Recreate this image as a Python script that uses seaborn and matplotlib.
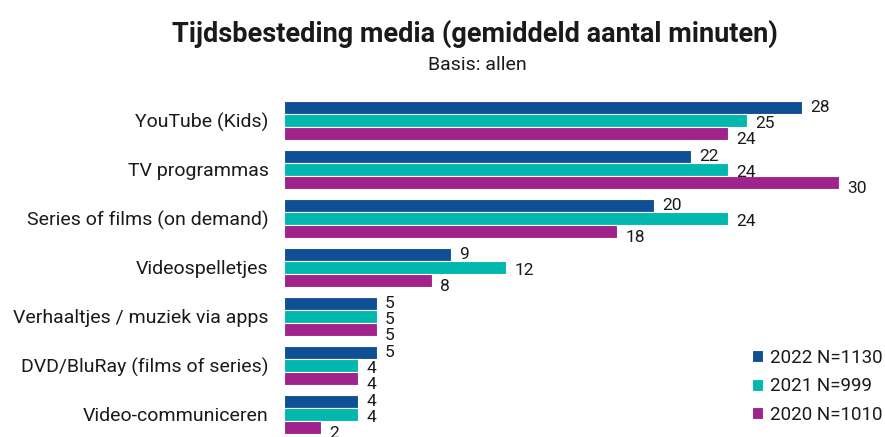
import matplotlib
matplotlib.use("Agg")
import matplotlib.pyplot as plt
import seaborn as sns
import pandas as pd

categories = [
    "YouTube (Kids)",
    "TV programmas",
    "Series of films (on demand)",
    "Videospelletjes",
    "Verhaaltjes / muziek via apps",
    "DVD/BluRay (films of series)",
    "Video-communiceren",
]
series_names = ["2022 N=1130", "2021 N=999", "2020 N=1010"]
values_2022 = [28, 22, 20, 9, 5, 5, 4]
values_2021 = [25, 24, 24, 12, 5, 4, 4]
values_2020 = [24, 30, 18, 8, 5, 4, 2]
colors = ["#0F4F96", "#00B8AD", "#A0238B"]

df = pd.DataFrame({
    "categorie": categories * 3,
    "reeks": [series_names[0]] * 7 + [series_names[1]] * 7 + [series_names[2]] * 7,
    "minuten": values_2022 + values_2021 + values_2020,
})

sns.set_theme(style="white")
plt.rcParams["font.family"] = ["Roboto", "DejaVu Sans"]
plt.rcParams["text.color"] = "#1a1a1a"

W, H = 885, 437
fig = plt.figure(figsize=(W / 100, H / 100), dpi=100)
ax = fig.add_axes([284 / W, 0, 601 / W, 341 / H])

sns.barplot(
    data=df, y="categorie", x="minuten", hue="reeks",
    order=categories, hue_order=series_names, palette=colors,
    saturation=1, orient="h", width=0.8, ax=ax,
    edgecolor="white", linewidth=0.8, legend=True,
)

# value labels, nudged downward per series so stacked numbers stay readable
nudges = [0, -2, -4]
for cont, dy in zip(ax.containers, nudges):
    anns = ax.bar_label(cont, fmt="%d", padding=6, fontsize=12.5, color="#1a1a1a")
    for a in anns:
        a.xyann = (a.xyann[0], dy)

ax.set_xlim(0, 601 / 18.5)
ax.set_ylim(6.46, -0.5)
ax.set_xlabel("")
ax.set_ylabel("")
ax.set_xticks([])
ax.tick_params(axis="y", length=0, pad=11, labelsize=14, labelcolor="#1a1a1a")
for s in ax.spines.values():
    s.set_visible(False)

handles, labels = ax.get_legend_handles_labels()
ax.legend_.remove()
fig.legend(
    handles, labels, loc="upper left", bbox_to_anchor=(752 / W, 1 - 349 / H),
    frameon=False, fontsize=13.5, handlelength=0.6, handleheight=0.6,
    handletextpad=0.35, labelspacing=0.55, borderaxespad=0, borderpad=0,
)

fig.text(475 / W, 1 - 34 / H, "Tijdsbesteding media (gemiddeld aantal minuten)",
         ha="center", va="center", fontsize=19.5, fontweight="bold")
fig.text(477 / W, 1 - 65 / H, "Basis: allen", ha="center", va="center", fontsize=14)

fig.savefig("out.png", dpi=100)
